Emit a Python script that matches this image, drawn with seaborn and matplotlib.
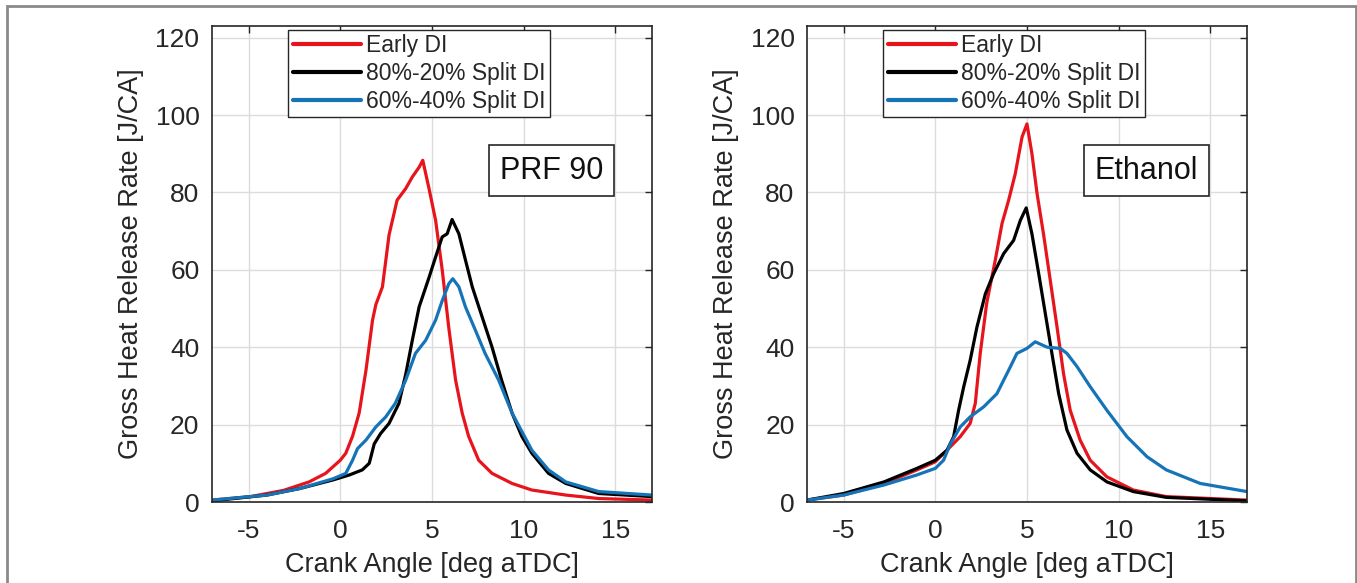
import matplotlib
matplotlib.use("Agg")
import matplotlib.pyplot as plt
import pandas as pd
import seaborn as sns
from matplotlib.patches import Rectangle

# crank angle [deg aTDC] / heat release rate [J/CA]
prf_early_x = [-7.0, -4.9, -3.1, -1.7, -0.8, 0.0, 0.3, 0.67, 1.03, 1.4, 1.76, 1.94, 2.3, 2.66, 3.1,
               3.57, 3.93, 4.3, 4.5, 4.84, 5.2, 5.56, 5.92, 6.29, 6.65, 7.0, 7.55, 8.28, 9.37, 10.45,
               12.3, 14.1, 17.0]
prf_early_y = [0.5, 1.4, 3.0, 5.2, 7.4, 10.8, 12.6, 17.0, 23.0, 34.0, 47.0, 51.0, 55.6, 69.0, 78.0,
               81.0, 84.0, 86.5, 88.3, 81.0, 72.8, 60.0, 45.0, 31.5, 23.0, 17.0, 10.8, 7.4, 4.8, 3.1,
               1.8, 0.9, 0.5]

prf_8020_x = [-7.0, -4.0, -2.2, -0.4, 0.5, 1.2, 1.58, 1.85, 2.2, 2.66, 3.2, 3.57, 3.93, 4.3, 4.84,
              5.2, 5.56, 5.83, 6.1, 6.47, 6.83, 7.2, 7.74, 8.28, 8.8, 9.37, 9.9, 10.45, 11.36, 12.3,
              14.1, 17.0]
prf_8020_y = [0.3, 1.8, 3.5, 5.7, 7.0, 8.3, 10.0, 15.0, 17.7, 20.3, 25.5, 33.0, 41.8, 50.4, 58.0,
              63.3, 68.5, 69.3, 73.0, 69.3, 62.5, 55.6, 47.8, 40.0, 31.5, 23.0, 17.0, 12.6, 7.4, 4.8,
              2.2, 1.4]

prf_6040_x = [-7.0, -4.0, -2.2, -0.4, 0.3, 0.67, 0.94, 1.4, 1.94, 2.48, 3.0, 3.57, 4.1, 4.66, 5.2,
              5.56, 5.92, 6.14, 6.47, 6.83, 7.37, 7.9, 8.64, 9.37, 10.45, 11.36, 12.3, 14.1, 17.0]
prf_6040_y = [0.5, 1.8, 3.5, 6.0, 7.4, 10.8, 13.8, 16.0, 19.4, 22.0, 25.5, 31.5, 38.4, 41.8, 47.0,
              52.0, 56.4, 57.7, 55.6, 50.4, 44.4, 38.4, 31.5, 23.0, 13.4, 8.3, 5.2, 2.7, 1.8]

eth_early_x = [-7.0, -5.0, -2.8, -1.0, 0.0, 0.64, 1.36, 1.9, 2.18, 2.45, 2.8, 3.27, 3.64, 4.0, 4.36,
               4.73, 5.0, 5.27, 5.55, 5.9, 6.27, 6.64, 7.0, 7.36, 7.9, 8.45, 9.36, 10.8, 12.6, 17.0]
eth_early_y = [0.5, 1.8, 4.8, 8.3, 10.4, 13.4, 16.9, 20.3, 25.5, 38.4, 51.3, 62.5, 72.0, 78.0, 84.8,
               94.3, 97.7, 90.0, 79.7, 69.3, 57.3, 45.2, 33.0, 23.7, 16.0, 10.8, 6.5, 3.1, 1.4, 0.5]

eth_8020_x = [-7.0, -5.0, -2.8, -1.0, 0.0, 0.64, 1.0, 1.27, 1.55, 1.9, 2.27, 2.73, 3.18, 3.73, 4.27,
              4.64, 4.96, 5.27, 5.64, 6.0, 6.36, 6.73, 7.18, 7.73, 8.45, 9.36, 10.8, 12.6, 17.0]
eth_8020_y = [0.5, 2.2, 5.2, 8.7, 10.8, 13.4, 16.9, 23.7, 29.8, 36.6, 45.2, 53.8, 59.0, 64.2, 67.6,
              72.8, 76.0, 69.3, 59.0, 48.7, 38.4, 28.0, 18.6, 12.6, 8.3, 5.2, 2.7, 1.2, 0.3]

eth_6040_x = [-7.0, -5.0, -2.8, -1.0, 0.0, 0.45, 0.82, 1.36, 1.9, 2.64, 3.36, 3.73, 4.1, 4.45, 5.0,
              5.45, 6.1, 6.82, 7.18, 7.73, 8.45, 9.36, 10.45, 11.55, 12.6, 14.45, 17.0]
eth_6040_y = [0.5, 1.8, 4.4, 7.0, 8.7, 10.8, 15.0, 19.4, 22.0, 24.6, 28.0, 31.5, 35.0, 38.4, 39.7,
              41.4, 40.0, 39.7, 38.4, 35.0, 29.8, 23.7, 16.9, 11.7, 8.3, 4.8, 2.7]

series_names = ["Early DI", "80%-20% Split DI", "60%-40% Split DI"]
fuels = ["PRF 90", "Ethanol"]
x_ticks = [-5, 0, 5, 10, 15]
y_ticks = [0, 20, 40, 60, 80, 100, 120]

curves = {
    "PRF 90": [(prf_early_x, prf_early_y), (prf_8020_x, prf_8020_y), (prf_6040_x, prf_6040_y)],
    "Ethanol": [(eth_early_x, eth_early_y), (eth_8020_x, eth_8020_y), (eth_6040_x, eth_6040_y)],
}

colors = ["#e8141c", "#000000", "#1574b8"]

sns.set_style("white")
plt.rcParams["font.family"] = ["Liberation Sans", "DejaVu Sans"]
plt.rcParams["axes.unicode_minus"] = False

fig = plt.figure(figsize=(13.57, 5.83), dpi=100)
axes = [fig.add_axes([0.1562, 0.1389, 0.3242, 0.8165]),
        fig.add_axes([0.5947, 0.1389, 0.3242, 0.8165])]

for ax, fuel in zip(axes, fuels):
    frames = []
    for name, (xs, ys) in zip(series_names, curves[fuel]):
        frames.append(pd.DataFrame({"angle": xs, "hrr": ys, "case": name}))
    df = pd.concat(frames, ignore_index=True)

    sns.lineplot(data=df, x="angle", y="hrr", hue="case", hue_order=series_names,
                 palette=colors, sort=False, estimator=None, lw=2.3, ax=ax)

    ax.set_xlim(-7, 17)
    ax.set_ylim(0, 123)
    ax.set_xticks(x_ticks)
    ax.set_yticks(y_ticks)
    ax.grid(True, color="#dcdcdc", lw=1.0)
    ax.set_axisbelow(True)
    ax.tick_params(direction="in", length=5, width=1, top=True, right=True,
                   labelsize=19, colors="#262626", pad=9)
    ax.tick_params(axis="x", pad=12)
    for sp in ax.spines.values():
        sp.set_color("#262626")
        sp.set_linewidth(1.2)

    ax.set_xlabel("Crank Angle [deg aTDC]", fontsize=19.5, color="#262626", labelpad=7)
    ax.set_ylabel("Gross Heat Release Rate [J/CA]", fontsize=19.5, color="#262626", labelpad=8)

    leg = ax.legend(loc="upper left", bbox_to_anchor=(0.173, 0.992), borderaxespad=0,
                    fontsize=16.5, handlelength=3.0, handletextpad=0.2, labelspacing=0.2,
                    borderpad=0.2, fancybox=False, framealpha=1, edgecolor="#262626")
    leg.get_frame().set_linewidth(1.0)
    for line in leg.get_lines():
        line.set_linewidth(3)

    ax.text(0.772, 0.696, fuel, transform=ax.transAxes, ha="center", va="center",
            fontsize=22, color="#111111",
            bbox=dict(boxstyle="square,pad=0.35", fc="white", ec="#262626", lw=1.2))

# outer frame around the whole picture
fig.add_artist(Rectangle((0.0055, -0.1), 0.9935, 1.0897, transform=fig.transFigure,
                         fill=False, ec="#8a8a8a", lw=2))

fig.savefig("out.png", dpi=100)
